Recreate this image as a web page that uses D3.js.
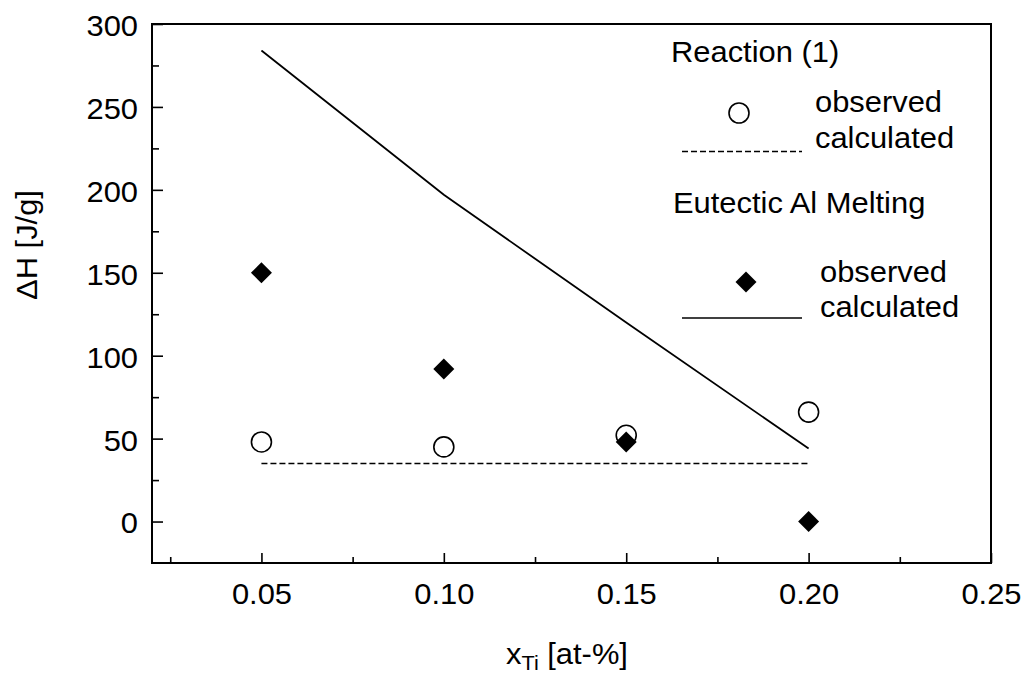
<!DOCTYPE html>
<html>
<head>
<meta charset="utf-8">
<script src="https://cdn.jsdelivr.net/npm/d3@7"></script>
<style>
  body { margin: 0; background: #fff; }
  text { font-family: "Liberation Sans", Arial, sans-serif; fill: #000; }
</style>
</head>
<body>
<svg id="chart" width="1022" height="683"></svg>
<script>
// values
const xTi = [0.05, 0.10, 0.15, 0.20];
const reactionObserved = [48, 45, 52, 66];
const reactionCalculated = [35, 35, 35, 35];
const meltingObserved = [150, 92, 48, 0];
const meltingCalculated = [284, 197, 120, 44];

const xTicks = [0.05, 0.10, 0.15, 0.20, 0.25];
const xMinorTicks = [0.025, 0.075, 0.125, 0.175, 0.225];
const yTicks = [0, 50, 100, 150, 200, 250, 300];
const yMinorTicks = [25, 75, 125, 175, 225, 275];

const FS = 30, STRETCH = 1.03;

const svg = d3.select("#chart");

const x = d3.scaleLinear().domain([0.02, 0.25]).range([152, 991]);
const y = d3.scaleLinear().domain([-25, 300]).range([563, 24]);

// minor ticks
svg.append("g")
    .attr("transform", "translate(0," + y(-25) + ")")
    .call(d3.axisBottom(x).tickValues(xMinorTicks).tickSize(-6).tickFormat(""))
    .call(g => g.select(".domain").remove());
svg.append("g")
    .attr("transform", "translate(" + x(0.02) + ",0)")
    .call(d3.axisLeft(y).tickValues(yMinorTicks).tickSize(-7).tickFormat(""))
    .call(g => g.select(".domain").remove());

// major ticks + labels
const xAxis = svg.append("g")
    .attr("transform", "translate(0," + y(-25) + ")")
    .call(d3.axisBottom(x).tickValues(xTicks).tickSize(-10).tickPadding(20).tickFormat(d3.format(".2f")))
    .call(g => g.select(".domain").remove());
const yAxis = svg.append("g")
    .attr("transform", "translate(" + x(0.02) + ",0)")
    .call(d3.axisLeft(y).tickValues(yTicks).tickSize(-11).tickPadding(13))
    .call(g => g.select(".domain").remove());

[xAxis, yAxis].forEach(a => {
    a.selectAll("text")
        .attr("font-size", FS)
        .attr("font-family", "Liberation Sans, Arial, sans-serif")
        .attr("fill", "#000")
        .attr("transform", "scale(" + STRETCH + ",1)");
});
yAxis.selectAll("text").attr("x", -14 / STRETCH).attr("dy", "0.38em");
svg.selectAll("g.tick line").attr("stroke", "#000").attr("stroke-width", 1.6);

// frame
svg.append("rect")
    .attr("x", x(0.02)).attr("y", y(300))
    .attr("width", x(0.25) - x(0.02)).attr("height", y(-25) - y(300))
    .attr("fill", "none").attr("stroke", "#000").attr("stroke-width", 2);

const line = d3.line().x(d => x(d[0])).y(d => y(d[1]));

// calculated curves
svg.append("path")
    .datum(xTi.map((v, i) => [v, reactionCalculated[i]]))
    .attr("d", line)
    .attr("fill", "none").attr("stroke", "#000").attr("stroke-width", 1.5)
    .attr("stroke-dasharray", "6,3");
svg.append("path")
    .datum(xTi.map((v, i) => [v, meltingCalculated[i]]))
    .attr("d", line)
    .attr("fill", "none").attr("stroke", "#000").attr("stroke-width", 1.8);

// observed points
svg.selectAll(".obs-reaction")
    .data(xTi.map((v, i) => [v, reactionObserved[i]]))
    .enter().append("circle")
    .attr("class", "obs-reaction")
    .attr("cx", d => x(d[0])).attr("cy", d => y(d[1]))
    .attr("r", 10)
    .attr("fill", "#fff").attr("stroke", "#000").attr("stroke-width", 1.6);

const diamond = d3.symbol().type(d3.symbolSquare).size(220);
svg.selectAll(".obs-melting")
    .data(xTi.map((v, i) => [v, meltingObserved[i]]))
    .enter().append("path")
    .attr("class", "obs-melting")
    .attr("d", diamond)
    .attr("transform", d => "translate(" + x(d[0]) + "," + y(d[1]) + ") rotate(45)")
    .attr("fill", "#000");

// text helper: slightly wide lettering like the scanned figure
function label(px, py, str, anchor) {
    return svg.append("text")
        .attr("transform", "translate(" + px + "," + py + ") scale(" + STRETCH + ",1)")
        .attr("text-anchor", anchor || "start")
        .attr("font-size", FS)
        .text(str);
}

// legend
label(671, 62, "Reaction (1)");
svg.append("circle").attr("cx", 739).attr("cy", 113).attr("r", 10)
    .attr("fill", "#fff").attr("stroke", "#000").attr("stroke-width", 1.6);
label(815, 112, "observed");
svg.append("line").attr("x1", 682).attr("x2", 802).attr("y1", 151.5).attr("y2", 151.5)
    .attr("stroke", "#000").attr("stroke-width", 1.5).attr("stroke-dasharray", "6,3");
label(815, 148, "calculated");

label(673, 213, "Eutectic Al Melting");
svg.append("path").attr("d", diamond)
    .attr("transform", "translate(746,282) rotate(45)").attr("fill", "#000");
label(820, 282, "observed");
svg.append("line").attr("x1", 682).attr("x2", 802).attr("y1", 318).attr("y2", 318)
    .attr("stroke", "#000").attr("stroke-width", 1.6);
label(820, 317, "calculated");

// axis titles
svg.append("text")
    .attr("transform", "translate(37,245) rotate(-90) scale(" + STRETCH + ",1)")
    .attr("text-anchor", "middle")
    .attr("font-size", FS)
    .text("ΔH [J/g]");

const xt = svg.append("text")
    .attr("transform", "translate(567,664) scale(" + STRETCH + ",1)")
    .attr("text-anchor", "middle")
    .attr("font-size", FS);
xt.append("tspan").text("x");
xt.append("tspan").attr("font-size", 21).attr("dy", 6).text("Ti");
xt.append("tspan").attr("dy", -6).text(" [at-%]");
</script>
</body>
</html>
